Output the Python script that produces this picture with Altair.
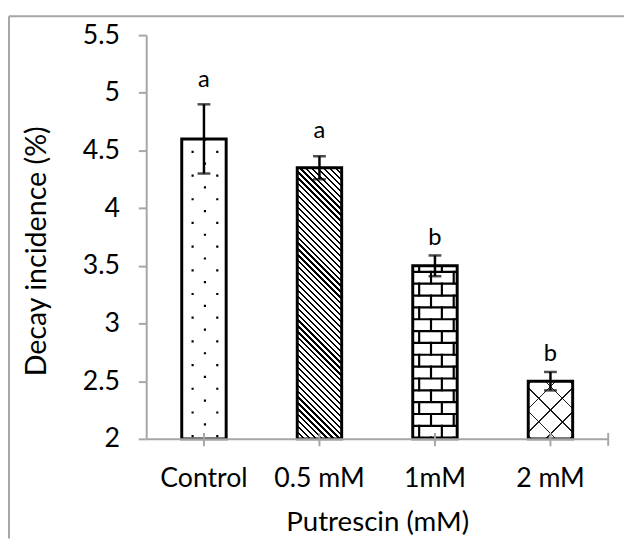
import altair as alt
import pandas as pd

# ---------------- data ----------------
groups = ["Control", "0.5 mM", "1mM", "2 mM"]
means = [4.6, 4.35, 3.5, 2.5]
errors = [0.3, 0.1, 0.09, 0.08]
letters = ["a", "a", "b", "b"]
y_ticks = [2, 2.5, 3, 3.5, 4, 4.5, 5, 5.5]
x_title = "Putrescin (mM)"
y_title = "Decay incidence (%)"

df = pd.DataFrame({"group": groups, "mean": means, "err": errors, "letter": letters})
df["lo"] = df["mean"] - df["err"]
df["hi"] = df["mean"] + df["err"]

# ---------------- layout / style ----------------
PLOT_W, PLOT_H = 468, 409
Y_MIN, Y_MAX = 2, 5.5
BAR_W = 45
FONT = "Lato"
AXIS_GRAY = "#a6a6a6"


def bar_px_height(v):
    return (v - Y_MIN) / (Y_MAX - Y_MIN) * PLOT_H


def hatch_gradient(value, spacing, thickness, direction, ink="black",
                   gap="rgba(255,255,255,0)", phase=0.0):
    """Diagonal hatch drawn as a hard-stop linear gradient on a bar."""
    w = BAR_W
    h = bar_px_height(value)
    L = w + h
    a = L / (w * w + h * h)
    if direction == "\\":
        x1, y1, x2, y2 = 0, 1, a * w, 1 - a * h
    else:
        x1, y1, x2, y2 = 0, 0, a * w, a * h
    stops = [alt.GradientStop(color=gap, offset=0)]
    p = phase
    while p < L:
        t0 = round(p / L, 6)
        t1 = round(min((p + thickness) / L, 1.0), 6)
        stops += [alt.GradientStop(color=gap, offset=t0),
                  alt.GradientStop(color=ink, offset=t0),
                  alt.GradientStop(color=ink, offset=t1),
                  alt.GradientStop(color=gap, offset=t1)]
        p += spacing
    stops.append(alt.GradientStop(color=gap, offset=1))
    return alt.LinearGradient(gradient="linear", stops=stops,
                              x1=x1, y1=y1, x2=x2, y2=y2)


xaxis = alt.Axis(labelAngle=0, labelFont=FONT, labelFontSize=27, labelColor="black",
                 labelPadding=20, tickSize=7, tickWidth=2, tickColor=AXIS_GRAY,
                 domainColor=AXIS_GRAY, domainWidth=2, titleFont=FONT,
                 titleFontSize=28, titleFontWeight="normal", titleColor="black",
                 titlePadding=18, zindex=1)
yaxis = alt.Axis(values=y_ticks, format="~g", grid=False, labelFont=FONT,
                 labelFontSize=27, labelColor="black", labelPadding=19,
                 tickSize=8, tickWidth=2, tickColor=AXIS_GRAY,
                 domainColor=AXIS_GRAY, domainWidth=2, zindex=1)

xscale = alt.Scale(paddingInner=0.6, paddingOuter=0.3)
yscale = alt.Scale(domain=[Y_MIN, Y_MAX], nice=False, zero=False)

X = alt.X("group:N", sort=groups, scale=xscale, axis=xaxis, title=x_title)


def Y(field):
    return alt.Y(f"{field}:Q", scale=yscale, axis=yaxis, title=None)


base = alt.Chart(df)
bar_enc = dict(x=X, y=Y("mean"), y2=alt.datum(Y_MIN))


def only(g):
    return base.transform_filter(alt.datum.group == g)


layers = []

# white base of all bars
layers.append(base.mark_bar(size=BAR_W, fill="white", strokeWidth=0).encode(**bar_enc))

# Control: staggered dots
for off, dash_off in [(1, 0), (-11.5, 12), (13.5, 12)]:
    layers.append(only("Control").mark_rule(color="black", strokeWidth=2.2,
                                            strokeDash=[2.2, 21.8], strokeDashOffset=dash_off,
                                            xOffset=off)
                  .encode(x=X, y=Y("mean"), y2=alt.datum(Y_MIN)))

# 0.5 mM: diagonal stripes
v05 = means[groups.index("0.5 mM")]
layers.append(only("0.5 mM").mark_bar(size=BAR_W, strokeWidth=0,
                                      fill=hatch_gradient(v05, 6, 2.2, "\\", gap="white"))
              .encode(**bar_enc))

# 1mM: bricks
layers.append(only("1mM").mark_rule(color="black", strokeWidth=BAR_W,
                                    strokeDash=[2.2, 9.8], strokeDashOffset=7)
              .encode(x=X, y=Y("mean"), y2=alt.datum(Y_MIN)))
for off, dash_off in [(-4, 19), (19, 19), (-16, 7), (7, 7)]:
    layers.append(only("1mM").mark_rule(color="black", strokeWidth=2.2,
                                        strokeDash=[14, 10], strokeDashOffset=dash_off,
                                        xOffset=off)
                  .encode(x=X, y=Y("mean"), y2=alt.datum(Y_MIN)))

# 2 mM: cross hatch
v2 = means[groups.index("2 mM")]
for d, ph in [("\\", 3), ("/", 3)]:
    layers.append(only("2 mM").mark_bar(size=BAR_W, strokeWidth=0,
                                        fill=hatch_gradient(v2, 24, 1.6, d, ink="#1a1a1a",
                                                            phase=ph))
                  .encode(**bar_enc))

# bar outlines
layers.append(base.mark_bar(size=BAR_W, fill="white", fillOpacity=0, stroke="black",
                            strokeWidth=3).encode(**bar_enc))

# upward half of the crossing category ticks + end tick
layers.append(base.mark_rule(color=AXIS_GRAY, strokeWidth=2)
              .encode(x=X, y=alt.value(PLOT_H - 6), y2=alt.value(PLOT_H)))
layers.append(alt.Chart(pd.DataFrame({"k": [0]})).mark_rule(color=AXIS_GRAY, strokeWidth=2)
              .encode(x=alt.value(PLOT_W), y=alt.value(PLOT_H - 6), y2=alt.value(PLOT_H + 7)))

# error bars
layers.append(base.mark_rule(color="black", strokeWidth=2.5)
              .encode(x=X, y=Y("lo"), y2="hi:Q"))
for f in ["lo", "hi"]:
    layers.append(base.mark_tick(color="black", thickness=2.5, size=13)
                  .encode(x=X, y=Y(f)))

# significance letters
layers.append(base.transform_filter(alt.datum.letter == "a")
              .mark_text(font=FONT, fontSize=24, color="black", baseline="alphabetic", dy=-18)
              .encode(x=X, y=Y("hi"), text="letter:N"))
layers.append(base.transform_filter(alt.datum.letter == "b")
              .mark_text(font=FONT, fontSize=24, color="black", baseline="alphabetic", dy=-11)
              .encode(x=X, y=Y("hi"), text="letter:N"))

one = alt.Chart(pd.DataFrame({"t": [y_title]}))

# y-axis title
layers.append(one.mark_text(font=FONT, fontSize=29, color="black", angle=270,
                            align="center", baseline="middle")
              .encode(x=alt.value(-111), y=alt.value(219), text="t:N"))

# chart-area border (top and left edges visible)
layers.append(one.mark_rule(color=AXIS_GRAY, strokeWidth=2)
              .encode(x=alt.value(-139), x2=alt.value(484), y=alt.value(-19)))
layers.append(one.mark_rule(color=AXIS_GRAY, strokeWidth=2)
              .encode(x=alt.value(-139), y=alt.value(-19), y2=alt.value(510)))

chart = (
    alt.layer(*layers)
    .properties(width=PLOT_W, height=PLOT_H,
                autosize=alt.AutoSizeParams(type="none"),
                padding={"left": 140, "top": 24, "right": 16, "bottom": 100},
                background="white")
    .configure_view(stroke=None)
)

chart.save("out.html", embed_options={"renderer": "svg", "actions": False})
